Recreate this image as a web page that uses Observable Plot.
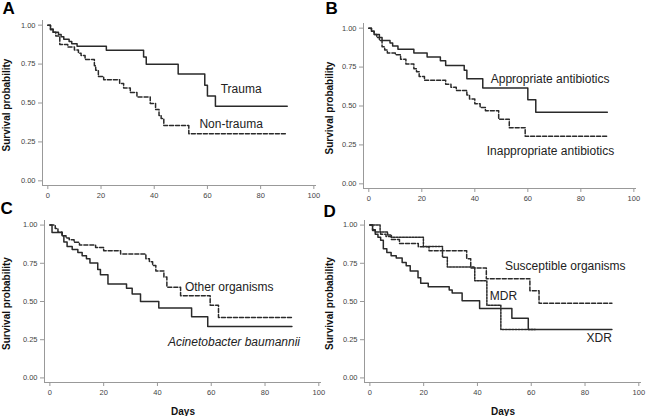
<!DOCTYPE html>
<html><head><meta charset="utf-8">
<script src="https://cdn.jsdelivr.net/npm/d3@7"></script>
<script src="https://cdn.jsdelivr.net/npm/@observablehq/plot@0.6"></script>
<style>
body{margin:0;background:#fff;font-family:"Liberation Sans",Arial,sans-serif;}
#root{position:relative;width:646px;height:416px;overflow:hidden;background:#fff;}
.panel{position:absolute;}
</style></head>
<body><div id="root"></div>
<script>
// ---- tick values ----
const xTicks = [0, 20, 40, 60, 80, 100];
const yTicks = [0, 0.25, 0.5, 0.75, 1];

// ---- Panel A ----
const traumaDays = [0,1,2,4,5,6,8,9,11,22,36,37,49,59,60,63,90];
const traumaSurv = [1,0.97,0.955,0.94,0.925,0.91,0.895,0.88,0.865,0.839,0.796,0.749,0.687,0.614,0.545,0.479,0.479];
const nonTraumaDays = [0,1,2,3,4.5,7.5,10,11.5,12.5,14,17.5,18,19,21,27,28.5,31,33.5,38.5,40.5,41.8,42.6,43.6,53,90];
const nonTraumaSurv = [1,0.975,0.955,0.93,0.876,0.86,0.84,0.82,0.805,0.78,0.74,0.71,0.67,0.65,0.625,0.597,0.567,0.539,0.496,0.459,0.42,0.40,0.356,0.303,0.303];

// ---- Panel B ----
const appDays = [0,1,2,4,5,8,9,11,17,22,27,29,36,37,43,60,63,90];
const appSurv = [1,0.98,0.96,0.94,0.92,0.905,0.885,0.865,0.84,0.815,0.79,0.76,0.73,0.675,0.615,0.54,0.46,0.46];
const inappDays = [0,1,2,3,4,5,6,7,10,12,14,17,18,19,21,29,31,33,37,38,40,42,44,49,53,59,90];
const inappSurv = [1,0.98,0.96,0.94,0.92,0.88,0.86,0.84,0.83,0.80,0.77,0.74,0.72,0.69,0.665,0.64,0.62,0.60,0.57,0.545,0.515,0.49,0.47,0.415,0.36,0.305,0.305];

// ---- Panel C ----
const otherDays = [0,2,3,4.5,6,7.2,9,11,17,20,26.3,35.7,37,38.2,39.4,42.4,43.5,48.6,59.6,62.7,90];
const otherSurv = [1,0.978,0.955,0.93,0.915,0.904,0.887,0.869,0.854,0.832,0.81,0.78,0.76,0.735,0.70,0.66,0.594,0.538,0.475,0.395,0.395];
const acinDays = [0,0.8,4.6,5.2,6.4,8.3,10.4,12,13.6,14.9,17.8,18.8,21.6,28.5,30.6,33.7,40.5,52.7,58.7,90];
const acinSurv = [1,0.952,0.93,0.89,0.86,0.84,0.82,0.80,0.78,0.752,0.71,0.675,0.615,0.586,0.549,0.50,0.457,0.40,0.336,0.336];

// ---- Panel D ----
const suscDays = [0,1,2,4,6,8,11,18,22,36,37.5,43.3,59.5,62.9,90];
const suscSurv = [1,0.97,0.955,0.94,0.925,0.905,0.88,0.858,0.832,0.78,0.72,0.649,0.571,0.488,0.488];
const mdrDays = [0,3.8,6.6,8,19.9,27,28.8,39,43.5,48.7,61.5];
const mdrSurv = [1,0.955,0.935,0.92,0.86,0.79,0.725,0.635,0.475,0.316,0.316];
const xdrDays = [0,1,2,3,4,5,6.3,7.9,9.8,12,13.5,15,17.9,18.9,21.7,29.5,30.6,34.3,40.8,52.8,58.9,90];
const xdrSurv = [1,0.965,0.94,0.92,0.90,0.845,0.82,0.80,0.785,0.756,0.734,0.70,0.655,0.62,0.597,0.575,0.555,0.505,0.455,0.39,0.316,0.316];

const SOLID = null, DASH = "4,2", DOT = "2,1.2";
const xDomain = [-2, 101], yDomain = [-0.03, 1.03];
const pts = (days, surv) => days.map((d, i) => ({day: d, surv: surv[i]}));

function makePanel(cfg) {
  const marks = [
    Plot.ruleY([yDomain[0]], {stroke: "#999", strokeWidth: 1}),
    Plot.ruleX([xDomain[0]], {stroke: "#999", strokeWidth: 1}),
    Plot.axisX(xTicks, {tickSize: 4, tickPadding: 3, stroke: "#999", color: "#444", fontSize: 7.5, label: null}),
    Plot.axisY(yTicks, {tickSize: 4, tickPadding: 3, stroke: "#999", color: "#444", fontSize: 7.5,
      tickFormat: d3.format(".2f"), label: null}),
  ];
  for (const c of cfg.curves) {
    marks.push(Plot.line(pts(c.days, c.surv), {x: "day", y: "surv", curve: "step-after",
      stroke: "#2a2a2a", strokeWidth: 1.5, strokeDasharray: c.dash}));
  }
  for (const l of cfg.labels) {
    marks.push(Plot.text([l], {x: "x", y: "y", text: "text", textAnchor: l.anchor || "start",
      fontSize: 12, fill: "#222", fontStyle: l.italic ? "italic" : "normal"}));
  }
  marks.push(Plot.text([cfg.yLabel], {text: d => d, frameAnchor: "left", textAnchor: "middle", lineAnchor: "middle",
    rotate: -90, dx: -cfg.marginLeft + 6, dy: 2, fontSize: 10, fontWeight: "bold", fill: "#111"}));
  marks.push(Plot.text([cfg.letter], {text: d => d, frameAnchor: "top-left", dx: -cfg.marginLeft + cfg.letterX,
    dy: -cfg.marginTop + cfg.letterY, textAnchor: "start", lineAnchor: "top", fontSize: 17, fontWeight: "bold", fill: "#000"}));
  if (cfg.xLabel) {
    marks.push(Plot.text([cfg.xLabel], {text: d => d, frameAnchor: "bottom", textAnchor: "middle", lineAnchor: "middle", dy: 29,
      fontSize: 10, fontWeight: "bold", fill: "#111"}));
  }
  const svg = Plot.plot({
    width: 323, height: cfg.height,
    marginLeft: cfg.marginLeft, marginRight: cfg.marginRight,
    marginTop: cfg.marginTop, marginBottom: cfg.marginBottom,
    x: {domain: xDomain}, y: {domain: yDomain},
    style: {fontFamily: "'Liberation Sans', Arial, sans-serif", fontSize: "7.5px", overflow: "visible", background: "transparent"},
    marks
  });
  const div = document.createElement("div");
  div.className = "panel";
  div.style.left = cfg.left + "px";
  div.style.top = cfg.top + "px";
  div.appendChild(svg);
  document.getElementById("root").appendChild(div);
}

makePanel({letter: "A", letterX: 2, letterY: 1, left: 0, top: 0, height: 200,
  marginLeft: 42, marginRight: 7, marginTop: 20, marginBottom: 15, yLabel: "Survival probability",
  curves: [{days: traumaDays, surv: traumaSurv, dash: SOLID}, {days: nonTraumaDays, surv: nonTraumaSurv, dash: DASH}],
  labels: [{text: "Trauma", x: 65, y: 0.588}, {text: "Non-trauma", x: 57, y: 0.362}]});

makePanel({letter: "B", letterX: 2, letterY: 1, left: 323, top: 0, height: 200,
  marginLeft: 40, marginRight: 10, marginTop: 23, marginBottom: 12, yLabel: "Survival probability",
  curves: [{days: appDays, surv: appSurv, dash: SOLID}, {days: inappDays, surv: inappSurv, dash: DASH}],
  labels: [{text: "Appropriate antibiotics", x: 46, y: 0.671}, {text: "Inappropriate antibiotics", x: 44.5, y: 0.208}]});

makePanel({letter: "C", letterX: 0, letterY: 1, left: 0, top: 200, height: 216,
  marginLeft: 44, marginRight: 2, marginTop: 20, marginBottom: 34, yLabel: "Survival probability", xLabel: "Days",
  curves: [{days: otherDays, surv: otherSurv, dash: DASH}, {days: acinDays, surv: acinSurv, dash: SOLID}],
  labels: [{text: "Other organisms", x: 50.2, y: 0.597}, {text: "Acinetobacter baumannii", x: 43.9, y: 0.233, italic: true}]});

makePanel({letter: "D", letterX: 0, letterY: 4, left: 323, top: 200, height: 216,
  marginLeft: 41, marginRight: 5, marginTop: 20, marginBottom: 34, yLabel: "Survival probability", xLabel: "Days",
  curves: [{days: suscDays, surv: suscSurv, dash: DASH}, {days: mdrDays, surv: mdrSurv, dash: DOT}, {days: xdrDays, surv: xdrSurv, dash: SOLID}],
  labels: [{text: "Susceptible organisms", x: 50.2, y: 0.734}, {text: "MDR", x: 44.6, y: 0.532}, {text: "XDR", x: 90, y: 0.257, anchor: "end"}]});
</script></body></html>
